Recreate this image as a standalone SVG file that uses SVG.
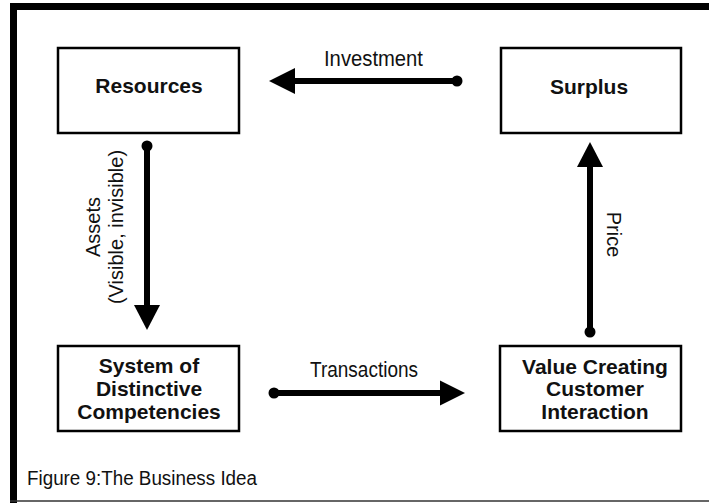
<svg xmlns="http://www.w3.org/2000/svg" width="709" height="503" viewBox="0 0 709 503">
<defs>
<style>
.box{fill:#fff;stroke:#000;stroke-width:2.5}
.nt{font-family:"Liberation Sans",Arial,sans-serif;font-weight:bold;font-size:21px;text-anchor:middle;fill:#111}
.lb{font-family:"Liberation Sans",Arial,sans-serif;font-size:20px;text-anchor:middle;fill:#111}
.cd{font-family:"Liberation Sans",Arial,sans-serif;font-size:22px;text-anchor:middle;fill:#111}
.ln{stroke:#000;stroke-width:6;fill:none}
.hd{fill:#000}
</style>
</defs>
<rect width="709" height="503" fill="#fff"/>
<g id="frame">
<line x1="10" y1="6.5" x2="709" y2="6.5" stroke="#000" stroke-width="7"/>
<line x1="13.5" y1="3" x2="13.5" y2="503" stroke="#000" stroke-width="7"/>
<line x1="10" y1="501" x2="709" y2="501" stroke="#333" stroke-width="1.5"/>
</g>
<g id="resources">
<rect class="box" x="58" y="48" width="181" height="85"/>
<text class="nt" x="149" y="93">Resources</text>
</g>
<g id="surplus">
<rect class="box" x="501" y="48" width="180" height="85"/>
<text class="nt" x="589" y="94">Surplus</text>
</g>
<g id="system">
<rect class="box" x="58" y="346" width="181" height="85"/>
<text class="nt" x="149" y="373">System of</text>
<text class="nt" x="149" y="396">Distinctive</text>
<text class="nt" x="149" y="419">Competencies</text>
</g>
<g id="value">
<rect class="box" x="500" y="346" width="181" height="85"/>
<text class="nt" x="595" y="374">Value Creating</text>
<text class="nt" x="595" y="396">Customer</text>
<text class="nt" x="595" y="419">Interaction</text>
</g>
<g id="connectors">
<line class="ln" x1="457" y1="81" x2="293" y2="81"/>
<circle class="hd" cx="457" cy="81" r="5.5"/>
<polygon class="hd" points="269,81 295,68 295,94"/>
<text class="cd" x="373.5" y="66" textLength="99" lengthAdjust="spacingAndGlyphs">Investment</text>

<line class="ln" x1="147" y1="146" x2="147" y2="307"/>
<circle class="hd" cx="147" cy="146" r="5.5"/>
<polygon class="hd" points="147,330 134,305 160,305"/>
<text class="lb" transform="translate(100,227) rotate(-90)">Assets</text>
<text class="lb" transform="translate(123,227) rotate(-90)">(Visible, invisible)</text>

<line class="ln" x1="274" y1="393" x2="442" y2="393"/>
<circle class="hd" cx="274" cy="393" r="5.5"/>
<polygon class="hd" points="465,393 440,380.5 440,405.5"/>
<text class="cd" x="364" y="377" textLength="108" lengthAdjust="spacingAndGlyphs">Transactions</text>

<line class="ln" x1="590" y1="332" x2="590" y2="165"/>
<circle class="hd" cx="590" cy="332" r="5.5"/>
<polygon class="hd" points="590,142 577,167 603,167"/>
<text class="lb" transform="translate(607,234.5) rotate(90)">Price</text>
</g>
<text x="27" y="485" font-family="'Liberation Sans',Arial,sans-serif" font-size="19.5" fill="#111" textLength="230" lengthAdjust="spacingAndGlyphs">Figure 9:The Business Idea</text>
</svg>
